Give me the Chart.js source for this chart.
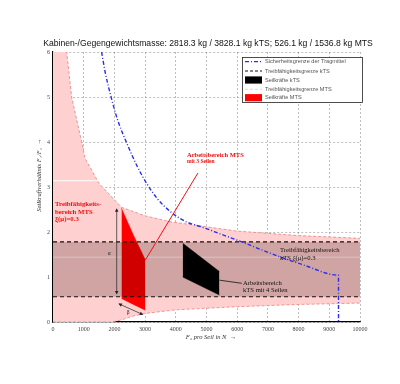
<!DOCTYPE html>
<html><head><meta charset="utf-8">
<script src="https://cdn.jsdelivr.net/npm/chart.js@4/dist/chart.umd.min.js"></script>
<style>html,body{margin:0;padding:0;background:#fff}</style>
</head><body>
<canvas id="c" width="400" height="384"></canvas>
<script>
// ---------- data ----------
const titleText = "Kabinen-/Gegengewichtsmasse: 2818.3 kg / 3828.1 kg kTS; 526.1 kg / 1536.8 kg MTS";
const xTickValues = [0,1000,2000,3000,4000,5000,6000,7000,8000,9000,10000];
const yTickValues = [0,1,2,3,4,5,6];

// MTS traction region (light pink)
const mtsUpperX = [0, 350, 446, 608, 934, 1042, 1500, 2230, 3000, 3810, 6000, 8000, 10000];
const mtsUpperY = [9.0, 7.2, 6.0, 5.0, 4.0, 3.64, 3.08, 2.55, 2.36, 2.23, 2.02, 1.92, 1.86];
const mtsLowerX = [0, 1950, 2300, 2600, 3000, 4000, 6000, 8000, 10000];
const mtsLowerY = [0, 0, 0.06, 0.13, 0.19, 0.27, 0.34, 0.39, 0.42];

// kTS traction band
const ktsBandX = [0, 10000];
const ktsUpperY = [1.78, 1.78];
const ktsLowerY = [0.56, 0.56];

// light reference lines
const refLineX = [0, 10000];
const refLine1Y = [1.44, 1.44];
const refLine2Y = [3.14, 3.14];

// working region MTS (red)
const mtsWorkX = [2230, 2620, 3010];
const mtsWorkUpperY = [2.53, 1.93, 1.38];
const mtsWorkLowerY = [0.52, 0.39, 0.26];

// working region kTS (black)
const ktsWorkX = [4225, 5420];
const ktsWorkUpperY = [1.75, 1.12];
const ktsWorkLowerY = [1.0, 0.6];

// rope limit (blue dash-dot)
const limitX = [1583, 1700, 1900, 2100, 2400, 2750, 3050, 3400, 3811, 4300, 4896, 5440, 6145, 7068, 8150, 9300, 9300];
const limitY = [6.0, 5.55, 4.98, 4.5, 3.98, 3.45, 3.08, 2.74, 2.46, 2.24, 2.10, 1.96, 1.78, 1.53, 1.27, 1.04, 0];

// annotation pointer lines
const mtsPointerX = [4720, 3010];
const mtsPointerY = [3.31, 1.38];
const ktsPointerX = [5420, 6150];
const ktsPointerY = [0.93, 0.86];

const legendLabels = [
  "Sicherheitsgrenze der Tragmittel",
  "Treibfähigkeitsgrenze kTS",
  "Seilkräfte kTS",
  "Treibfähigkeitsgrenze MTS",
  "Seilkräfte MTS"
];

// ---------- helpers ----------
const pts = (xs, ys) => xs.map((x, i) => ({x, y: ys[i]}));

const PINK = 'rgb(255,208,208)';
const PINK_EDGE = 'rgba(230,110,110,0.85)';
const BLUE = 'rgb(45,45,235)';

const datasets = [
  {label:'mtsUpper', data: pts(mtsUpperX, mtsUpperY), order: 100, fill: 1, backgroundColor: PINK,
   borderColor: PINK_EDGE, borderWidth: 0.8, borderDash: [3,2]},
  {label:'mtsLower', data: pts(mtsLowerX, mtsLowerY), order: 99, fill: false,
   borderColor: PINK_EDGE, borderWidth: 0.8, borderDash: [3,2]},
  {label:'ref1', data: pts(refLineX, refLine1Y), order: 90, fill: false, borderColor: 'rgba(255,255,255,0.95)', borderWidth: 1},
  {label:'ref2', data: pts(refLineX, refLine2Y), order: 90, fill: false, borderColor: 'rgba(255,255,255,0.95)', borderWidth: 1},
  {label:'mtsWorkUpper', data: pts(mtsWorkX, mtsWorkUpperY), order: 80, fill: 5, backgroundColor: '#ff0000',
   borderColor: '#ff0000', borderWidth: 0.5},
  {label:'mtsWorkLower', data: pts(mtsWorkX, mtsWorkLowerY), order: 79, fill: false, borderColor: '#ff0000', borderWidth: 0.5},
  {label:'ktsUpper', data: pts(ktsBandX, ktsUpperY), order: 70, fill: 7, backgroundColor: 'rgba(40,0,0,0.21)',
   borderColor: '#111', borderWidth: 1.1, borderDash: [4,3]},
  {label:'ktsLower', data: pts(ktsBandX, ktsLowerY), order: 69, fill: false, borderColor: '#111', borderWidth: 1.1, borderDash: [4,3]},
  {label:'ktsWorkUpper', data: pts(ktsWorkX, ktsWorkUpperY), order: 60, fill: 9, backgroundColor: '#000', borderColor: '#000', borderWidth: 0.5},
  {label:'ktsWorkLower', data: pts(ktsWorkX, ktsWorkLowerY), order: 59, fill: false, borderColor: '#000', borderWidth: 0.5},
  {label:'limit', data: pts(limitX, limitY), order: 50, fill: false, borderColor: BLUE, borderWidth: 1.4, borderDash: [4,2,1,2],
   cubicInterpolationMode: 'monotone'},
  {label:'mtsPointer', data: pts(mtsPointerX, mtsPointerY), order: 40, fill: false, borderColor: '#ee1111', borderWidth: 1},
  {label:'ktsPointer', data: pts(ktsPointerX, ktsPointerY), order: 40, fill: false, borderColor: '#111', borderWidth: 0.8}
];

function arrowHead(ctx, x1, y1, x2, y2, size) {
  const a = Math.atan2(y2 - y1, x2 - x1);
  ctx.beginPath();
  ctx.moveTo(x2, y2);
  ctx.lineTo(x2 - size * Math.cos(a - 0.45), y2 - size * Math.sin(a - 0.45));
  ctx.lineTo(x2 - size * Math.cos(a + 0.45), y2 - size * Math.sin(a + 0.45));
  ctx.closePath();
  ctx.fill();
}

const overlay = {
  id: 'overlay',
  afterDraw(chart) {
    const ctx = chart.ctx, xs = chart.scales.x, ys = chart.scales.y;
    const X = v => xs.getPixelForValue(v), Y = v => ys.getPixelForValue(v);
    ctx.save();
    // title
    ctx.fillStyle = '#111';
    ctx.font = '8.6px "Liberation Sans", Arial, sans-serif';
    ctx.textAlign = 'center'; ctx.textBaseline = 'middle';
    ctx.fillText(titleText, 208, 44);

    // axis titles
    ctx.font = 'italic 6.5px "Liberation Serif", serif';
    ctx.fillStyle = '#333';
    ctx.fillText('F\u2082 pro Seil in N  \u2192', 211, 337);
    ctx.save();
    ctx.translate(39, 175);
    ctx.rotate(-Math.PI / 2);
    ctx.fillText('Seilkraftverh\u00e4ltnis F\u2081/F\u2082  \u2192', 0, 0);
    ctx.restore();

    // arrows near MTS working region
    ctx.strokeStyle = '#222'; ctx.fillStyle = '#222'; ctx.lineWidth = 0.7;
    ctx.beginPath(); ctx.moveTo(X(2075), Y(2.5)); ctx.lineTo(X(2075), Y(0.64)); ctx.stroke();
    arrowHead(ctx, X(2075), Y(1.5), X(2075), Y(2.53), 4);
    arrowHead(ctx, X(2075), Y(1.5), X(2075), Y(0.61), 4);
    ctx.beginPath(); ctx.moveTo(X(2160), Y(0.40)); ctx.lineTo(X(2910), Y(0.17)); ctx.stroke();
    arrowHead(ctx, X(2900), Y(0.17), X(2128), Y(0.41), 4);
    arrowHead(ctx, X(2128), Y(0.41), X(2942), Y(0.16), 4);
    ctx.font = '5.5px "Liberation Serif", serif';
    ctx.textAlign = 'center';
    ctx.fillText('\u03b1', X(1834), Y(1.53));
    ctx.fillText('\u03b2', X(2450), Y(0.2));

    // annotation texts
    ctx.textAlign = 'left'; ctx.textBaseline = 'middle';
    ctx.fillStyle = '#ee1111';
    ctx.font = 'bold 6.8px "Liberation Serif", serif';
    ctx.fillText('Treibf\u00e4higkeits-', X(65), Y(2.62));
    ctx.fillText('bereich MTS', X(65), Y(2.45));
    ctx.fillText('\u03be(\u03bc)=0.3', X(65), Y(2.28));
    ctx.font = 'bold 6.5px "Liberation Serif", serif';
    ctx.fillText('Arbeitsbereich MTS', X(4365), Y(3.71));
    ctx.font = 'bold 5.5px "Liberation Serif", serif';
    ctx.fillText('mit 3 Seilen', X(4365), Y(3.56));

    ctx.fillStyle = '#111';
    ctx.font = '6.6px "Liberation Serif", serif';
    ctx.fillText('Treibf\u00e4higkeitsbereich', X(7394), Y(1.6));
    ctx.fillText('kTS \u03be(\u03bc)=0.3', X(7394), Y(1.41));
    ctx.fillText('Arbeitsbereich', X(6189), Y(0.87));
    ctx.fillText('kTS mit 4 Seilen', X(6189), Y(0.70));

    // legend
    const lx = 242, ly = 57, lw = 121, lh = 46;
    ctx.fillStyle = '#fff';
    ctx.fillRect(lx, ly, lw, lh);
    ctx.strokeStyle = '#222'; ctx.lineWidth = 0.8; ctx.setLineDash([]);
    ctx.strokeRect(lx + 0.5, ly + 0.5, lw - 1, lh - 1);
    const rows = [61.7, 71, 80, 89.3, 97.7];
    const sx0 = 245, sx1 = 262;
    ctx.strokeStyle = BLUE; ctx.lineWidth = 1.2; ctx.setLineDash([4,2,1,2]);
    ctx.beginPath(); ctx.moveTo(sx0, rows[0]); ctx.lineTo(sx1, rows[0]); ctx.stroke();
    ctx.strokeStyle = '#111'; ctx.lineWidth = 1; ctx.setLineDash([3,2]);
    ctx.beginPath(); ctx.moveTo(sx0, rows[1]); ctx.lineTo(sx1, rows[1]); ctx.stroke();
    ctx.strokeStyle = 'rgba(240,190,190,0.9)'; ctx.lineWidth = 0.8; ctx.setLineDash([3,2]);
    ctx.beginPath(); ctx.moveTo(sx0, rows[3]); ctx.lineTo(sx1, rows[3]); ctx.stroke();
    ctx.setLineDash([]);
    ctx.fillStyle = '#000'; ctx.fillRect(sx0, rows[2] - 3.6, sx1 - sx0, 7.2);
    ctx.fillStyle = '#ff0000'; ctx.fillRect(sx0, rows[4] - 3.6, sx1 - sx0, 7.2);
    ctx.fillStyle = '#555';
    ctx.font = '5.6px "Liberation Sans", Arial, sans-serif';
    legendLabels.forEach((t, i) => ctx.fillText(t, 265, rows[i]));
    ctx.restore();
  }
};

new Chart(document.getElementById('c'), {
  type: 'line',
  data: { datasets },
  options: {
    responsive: false,
    animation: false,
    devicePixelRatio: 1,
    layout: { padding: { left: 0, right: 40, top: 52, bottom: 0 } },
    plugins: { legend: { display: false }, title: { display: false }, tooltip: { enabled: false } },
    elements: { point: { radius: 0 }, line: { tension: 0 } },
    scales: {
      x: {
        type: 'linear', min: 0, max: 10000, z: 1,
        afterFit(s) { s.height = 62; },
        afterBuildTicks(s) { s.ticks = xTickValues.map(v => ({value: v})); },
        ticks: { font: { family: '"Liberation Serif", serif', size: 6 }, color: '#444', maxRotation: 0, autoSkip: false, padding: 4,
                 callback: v => String(v) },
        grid: { color: 'rgba(110,110,110,0.75)', lineWidth: 0.6, drawTicks: false },
        border: { display: true, color: '#000', width: 1.2, dash: [2,2] }
      },
      y: {
        type: 'linear', min: 0, max: 6, z: 1,
        afterFit(s) { s.width = 53; },
        afterBuildTicks(s) { s.ticks = yTickValues.map(v => ({value: v})); },
        ticks: { font: { family: '"Liberation Serif", serif', size: 6 }, color: '#444', padding: 3,
                 callback: v => String(v) },
        grid: { color: 'rgba(110,110,110,0.75)', lineWidth: 0.6, drawTicks: false },
        border: { display: true, color: '#000', width: 1.2, dash: [2,2] }
      }
    }
  },
  plugins: [overlay]
});
</script>
</body></html>
